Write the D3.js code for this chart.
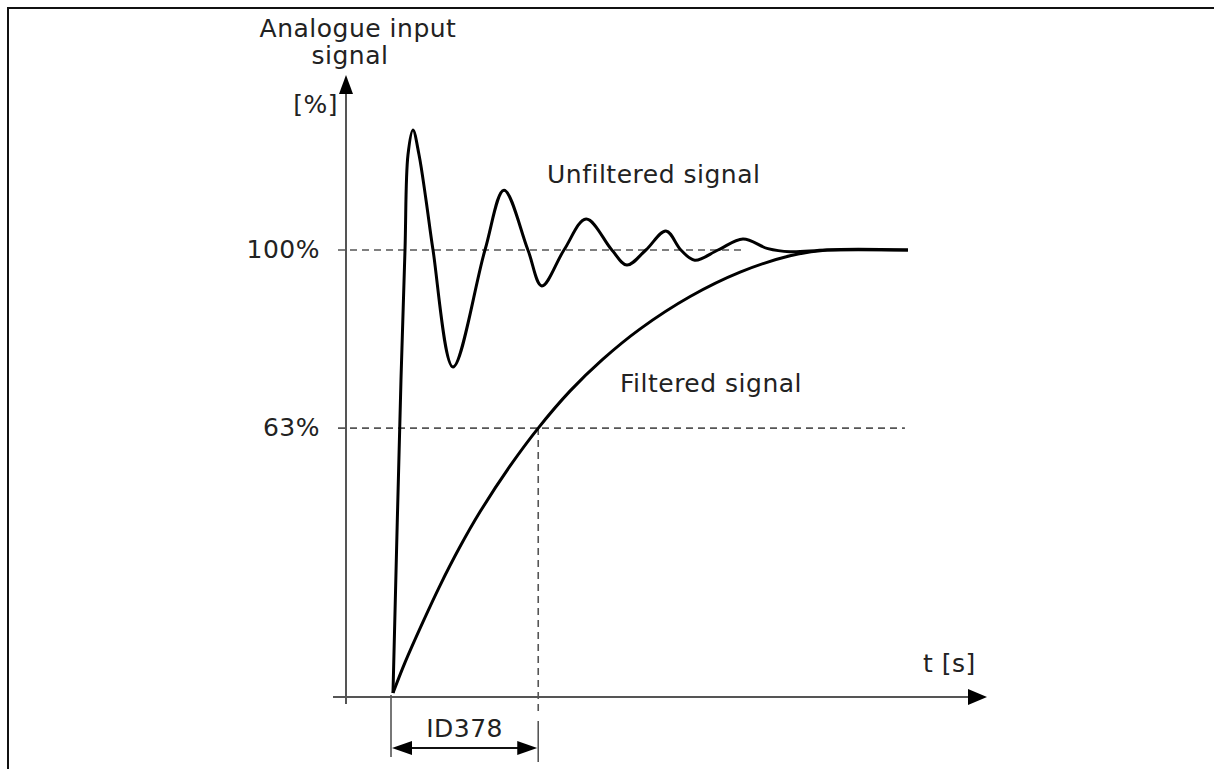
<!DOCTYPE html>
<html><head><meta charset="utf-8">
<script src="https://cdn.jsdelivr.net/npm/d3@7"></script>
<style>
html,body{margin:0;padding:0;background:#fff;}
svg text{font-family:"DejaVu Sans",Verdana,sans-serif;fill:#222;}
</style></head>
<body>
<svg id="chart" width="1214" height="769"></svg>
<script>
// ---- data (time in arbitrary units 0..100, signal in % of final value) ----
const unfilteredTime  = [0, 1.55, 2.33, 2.91, 3.88, 5.05, 6.41, 7.77, 11.65, 17.86, 21.55, 26.2, 28.9, 33.2, 37.5, 42.5, 45.4, 49.1, 53.0, 55.9, 58.6, 63.1, 67.96, 72.8, 77.1, 84.3, 100];
const unfilteredValue = [0, 70.7, 100, 121.5, 127.1, 121.5, 111.3, 100, 73.6, 100, 113.5, 100, 91.9, 100, 107.0, 100, 96.6, 100, 104.3, 100, 97.7, 100, 102.5, 100.3, 99.6, 100, 100];
const filteredTime    = [0, 2.3, 5.8, 9.1, 13.0, 16.9, 22.7, 28.2, 34.4, 40.6, 48.0, 57.7, 67.4, 77.1, 84.3, 100];
const filteredValue   = [0, 6.8, 16.0, 24.2, 33.0, 40.9, 51.2, 59.8, 68.2, 75.2, 82.2, 89.5, 95.0, 98.7, 100, 100];
const levelValues     = [100, 59.8];
const levelLabels     = ["100%", "63%"];
const levelEndTime    = [68.0, 99.4];
const filterTimeConstant = 28.2;
const filterParamLabel = "ID378";
const curveLabels     = ["Unfiltered signal", "Filtered signal"];
const yAxisTitle      = ["Analogue input", "signal"];
const yAxisUnit       = "[%]";
const xAxisTitle      = "t [s]";

// ---- layout ----
const svg = d3.select("#chart");
const x = d3.scaleLinear().domain([0, 100]).range([393, 908]);
const y = d3.scaleLinear().domain([0, 100]).range([693, 250]);
const axisX = 346, axisY = 697;
const axisColor = "#555";

// frame
svg.append("path").attr("d", "M8,769 L8,8 L1214,8")
  .attr("fill", "none").attr("stroke", "#111").attr("stroke-width", 2);

// axes
svg.append("line").attr("x1", axisX).attr("x2", axisX).attr("y1", 704).attr("y2", 92)
  .attr("stroke", axisColor).attr("stroke-width", 2);
svg.append("path").attr("d", `M${axisX},75 L${axisX-7},94 L${axisX+7},94 Z`).attr("fill", "#000");
svg.append("line").attr("x1", 333).attr("x2", 970).attr("y1", axisY).attr("y2", axisY)
  .attr("stroke", axisColor).attr("stroke-width", 2);
svg.append("path").attr("d", `M987,${axisY} L968,${axisY-8} L968,${axisY+8} Z`).attr("fill", "#000");

// reference levels
levelValues.forEach((v, i) => {
  svg.append("line").attr("x1", axisX - 8).attr("x2", x(levelEndTime[i]))
    .attr("y1", y(v)).attr("y2", y(v))
    .attr("stroke", axisColor).attr("stroke-width", 1.6).attr("stroke-dasharray", "7,5");
  svg.append("text").attr("x", 320).attr("y", y(v) + 8).attr("text-anchor", "end")
    .attr("font-size", 25).attr("letter-spacing", 0.5).text(levelLabels[i]);
});

// time constant marker
const tx = x(filterTimeConstant);
svg.append("line").attr("x1", tx).attr("x2", tx).attr("y1", y(levelValues[1])).attr("y2", 712)
  .attr("stroke", axisColor).attr("stroke-width", 1.6).attr("stroke-dasharray", "7,5");
svg.append("line").attr("x1", tx).attr("x2", tx).attr("y1", 721).attr("y2", 762)
  .attr("stroke", axisColor).attr("stroke-width", 1.6);
const x0 = x(0) - 2;
svg.append("line").attr("x1", x0).attr("x2", x0).attr("y1", 695).attr("y2", 757)
  .attr("stroke", axisColor).attr("stroke-width", 1.6);
svg.append("line").attr("x1", x0 + 18).attr("x2", tx - 18).attr("y1", 748).attr("y2", 748)
  .attr("stroke", "#111").attr("stroke-width", 2);
svg.append("path").attr("d", `M${x0+1},748 L${x0+21},741 L${x0+21},755 Z`).attr("fill", "#000");
svg.append("path").attr("d", `M${tx-1},748 L${tx-21},741 L${tx-21},755 Z`).attr("fill", "#000");
svg.append("text").attr("x", (x0 + tx) / 2).attr("y", 737).attr("text-anchor", "middle")
  .attr("font-size", 25).attr("letter-spacing", 0.5).text(filterParamLabel);

// curves
const line = d3.line().x(d => x(d[0])).y(d => y(d[1])).curve(d3.curveCatmullRom.alpha(0.5));
svg.append("path").datum(filteredTime.map((t, i) => [t, filteredValue[i]]))
  .attr("d", line).attr("fill", "none").attr("stroke", "#000").attr("stroke-width", 3);
svg.append("path").datum(unfilteredTime.map((t, i) => [t, unfilteredValue[i]]))
  .attr("d", line).attr("fill", "none").attr("stroke", "#000").attr("stroke-width", 3)
  .attr("stroke-linejoin", "round");

// labels
const lab = (txt, px, py, anchor) => svg.append("text").attr("x", px).attr("y", py)
  .attr("text-anchor", anchor || "start").attr("font-size", 25).attr("letter-spacing", 0.5).text(txt);
lab(yAxisTitle[0], 358, 37, "middle");
lab(yAxisTitle[1], 350, 64, "middle");
lab(yAxisUnit, 338, 113, "end");
lab(curveLabels[0], 547, 183);
lab(curveLabels[1], 620, 392);
lab(xAxisTitle, 923, 672);
</script>
</body></html>
